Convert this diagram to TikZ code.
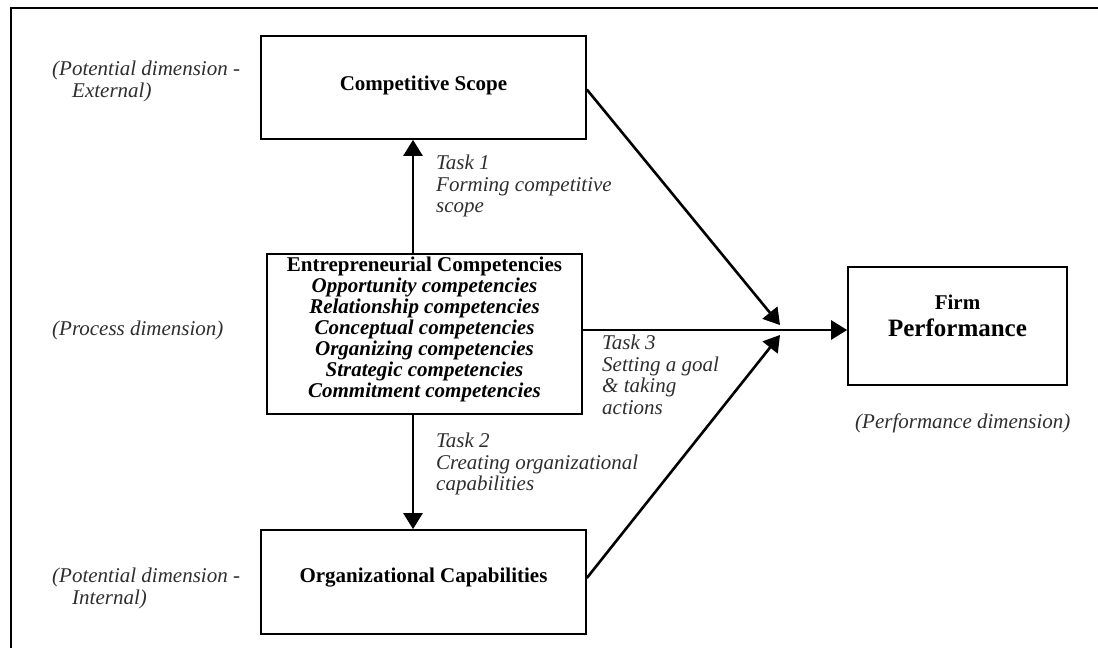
\documentclass[tikz,border=0pt]{standalone}
\usepackage{fontspec}
\setmainfont{Liberation Serif}
\usetikzlibrary{arrows.meta,calc}
\begin{document}
\begin{tikzpicture}[x=1pt,y=-1pt,
  box/.style={draw=black,line width=1.7pt,inner sep=0pt,minimum width=#1},
  ttl/.style={font=\fontsize{21}{21}\selectfont\bfseries,inner sep=0pt},
  lbl/.style={font=\fontsize{21}{21.5}\selectfont\itshape,text=black!82,inner sep=0pt,align=left},
  arr/.style={line width=2.6pt,-{Triangle[length=16pt,width=19pt]}}]
\useasboundingbox (0,0) rectangle (1098,648);
% frame
\draw[line width=2pt] (11,648) -- (11,8) -- (1098,8);
% boxes
\node[box=325pt,minimum height=103pt] (CS) at (423.5,87.5) {};
\node[ttl] (CSt) at (423.5,85) {Competitive Scope};
\node[box=315pt,minimum height=160pt] (EC) at (424.5,334) {};
\node[ttl,align=center] (ECt) at (424.5,329.5)
  {Entrepreneurial Competencies\\
   \itshape Opportunity competencies\\
   \itshape Relationship competencies\\
   \itshape Conceptual competencies\\
   \itshape Organizing competencies\\
   \itshape Strategic competencies\\
   \itshape Commitment competencies};
\node[box=325pt,minimum height=104pt] (OC) at (423.5,582) {};
\node[ttl] (OCt) at (423.5,578) {Organizational Capabilities};
\node[box=219pt,minimum height=118pt] (FP) at (957.5,326) {};
\node[ttl] (FPa) at (957.5,302) {Firm};
\node[ttl,font=\fontsize{25}{26}\selectfont\bfseries] (FPb) at (957.5,328) {Performance};
% dimension labels
\node[lbl,anchor=north west] (d1) at (52,61) {(Potential dimension -\\\hspace*{20pt}External)};
\node[lbl,anchor=west] (d2) at (52,330) {(Process dimension)};
\node[lbl,anchor=north west] (d3) at (52,568) {(Potential dimension -\\\hspace*{20pt}Internal)};
\node[lbl,anchor=west] (d4) at (855,423) {(Performance dimension)};
% task labels
\node[lbl,anchor=north west] (k1) at (436,155) {Task 1\\Forming competitive\\scope};
\node[lbl,anchor=north west] (k2) at (436,433) {Task 2\\Creating organizational\\capabilities};
\node[lbl,anchor=north west] (k3) at (602,335) {Task 3\\Setting a goal\\\& taking\\actions};
% connectors
\coordinate (vx) at (413,0);
\coordinate (m1) at (780,325);
\coordinate (m2) at (780,335);
\draw[arr] (EC.north -| vx) -- (CS.south -| vx);
\draw[arr] (EC.south -| vx) -- (OC.north -| vx);
\draw[arr] ($(EC.east)+(0,-4)$) -- ($(FP.west)+(0,4)$);
\draw[arr] ($(CS.east)+(0,2)$) -- (m1);
\draw[arr] ($(OC.east)+(0,-4)$) -- (m2);
\end{tikzpicture}
\end{document}
